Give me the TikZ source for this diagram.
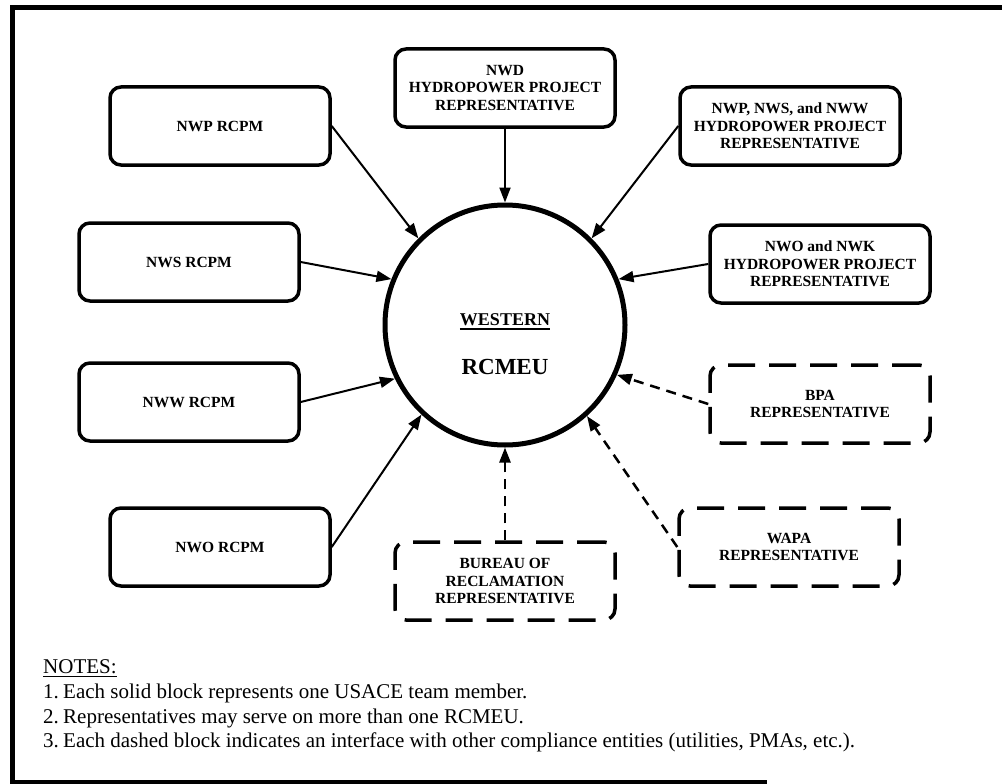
\documentclass[tikz,border=0pt]{standalone}
\usepackage{fontspec}
\setmainfont{Liberation Serif}
\usetikzlibrary{arrows.meta}

\begin{document}
\begin{tikzpicture}[x=1pt, y=-1pt, >={Triangle[length=15pt, width=11pt]}]
            \tikzstyle{block}=[draw=black, line width=3.5pt, rounded corners=11pt, minimum width=220pt, minimum height=78pt, align=center, font=\fontsize{15.5}{17.5}\selectfont\bfseries]
            \tikzstyle{dblock}=[block, dash pattern=on 27pt off 14pt]
            \tikzstyle{member}=[line width=2pt]
            \tikzstyle{iface}=[line width=2.5pt, dash pattern=on 10pt off 7pt]
            \tikzstyle{note}=[anchor=base west, inner sep=0pt, font=\fontsize{21}{24}\selectfont]

            \useasboundingbox (0,0) rectangle (1002,784);

            % frame
            \draw[line width=5pt] (1010,8) -- (12,8) -- (12,782) -- (767,782);

            \node[circle, draw=black, line width=5pt, minimum size=240pt, inner sep=0pt] (rcmeu) at (505,325) {};
            \node[inner sep=0pt, font=\fontsize{18}{18}\selectfont\bfseries] (west) at (505,320) {WESTERN};
            \node[inner sep=0pt, font=\fontsize{23}{23}\selectfont\bfseries] (unit) at (505,367) {RCMEU};
            \draw[line width=1.5pt] ([yshift=-3pt]west.base west) -- ([yshift=-3pt]west.base east);

            \node[block] (nwprcpm) at (220,126) {NWP RCPM};
            \node[block] (nwd) at (505,88) {NWD\\HYDROPOWER PROJECT\\REPRESENTATIVE};
            \node[block] (nwpsw) at (790,126) {NWP, NWS, and NWW\\HYDROPOWER PROJECT\\REPRESENTATIVE};
            \node[block] (nwsrcpm) at (189,262) {NWS RCPM};
            \node[block] (nwok) at (820,264) {NWO and NWK\\HYDROPOWER PROJECT\\REPRESENTATIVE};
            \node[block] (nwwrcpm) at (189,402) {NWW RCPM};
            \node[dblock] (bpa) at (820,404) {BPA\\REPRESENTATIVE};
            \node[block] (nworcpm) at (220,547) {NWO RCPM};
            \node[dblock] (wapa) at (789,547) {WAPA\\REPRESENTATIVE};
            \node[dblock] (bor) at (505,581) {BUREAU OF\\RECLAMATION\\REPRESENTATIVE};

            \path (nwprcpm.east) edge[->, member] (rcmeu.135);
            \path (nwd) edge[->, member] (rcmeu.90);
            \path (nwpsw.west) edge[->, member] (rcmeu.45);
            \path (nwsrcpm.east) edge[->, member] (rcmeu.158);
            \path (nwok.west) edge[->, member] (rcmeu.22);
            \path (nwwrcpm.east) edge[->, member] (rcmeu.206);
            \path (bpa.west) edge[->, iface] (rcmeu.336);
            \path (nworcpm.east) edge[->, member] (rcmeu.227);
            \path (wapa.west) edge[->, iface] (rcmeu.312);
            \path (bor) edge[->, iface] (rcmeu.270);

            % notes
            \node[note] (notes) at (43,673) {NOTES:};
            \draw[line width=1pt] ([yshift=-3pt]notes.base west) -- ([yshift=-3pt]notes.base east);
            \node[note] (note1) at (43,698) {\makebox[20pt][l]{1.}Each solid block represents one USACE team member.};
            \node[note] (note2) at (43,723) {\makebox[20pt][l]{2.}Representatives may serve on more than one RCMEU.};
            \node[note] (note3) at (43,747) {\makebox[20pt][l]{3.}Each dashed block indicates an interface with other compliance entities (utilities, PMAs, etc.).};

          \end{tikzpicture}
\end{document}
